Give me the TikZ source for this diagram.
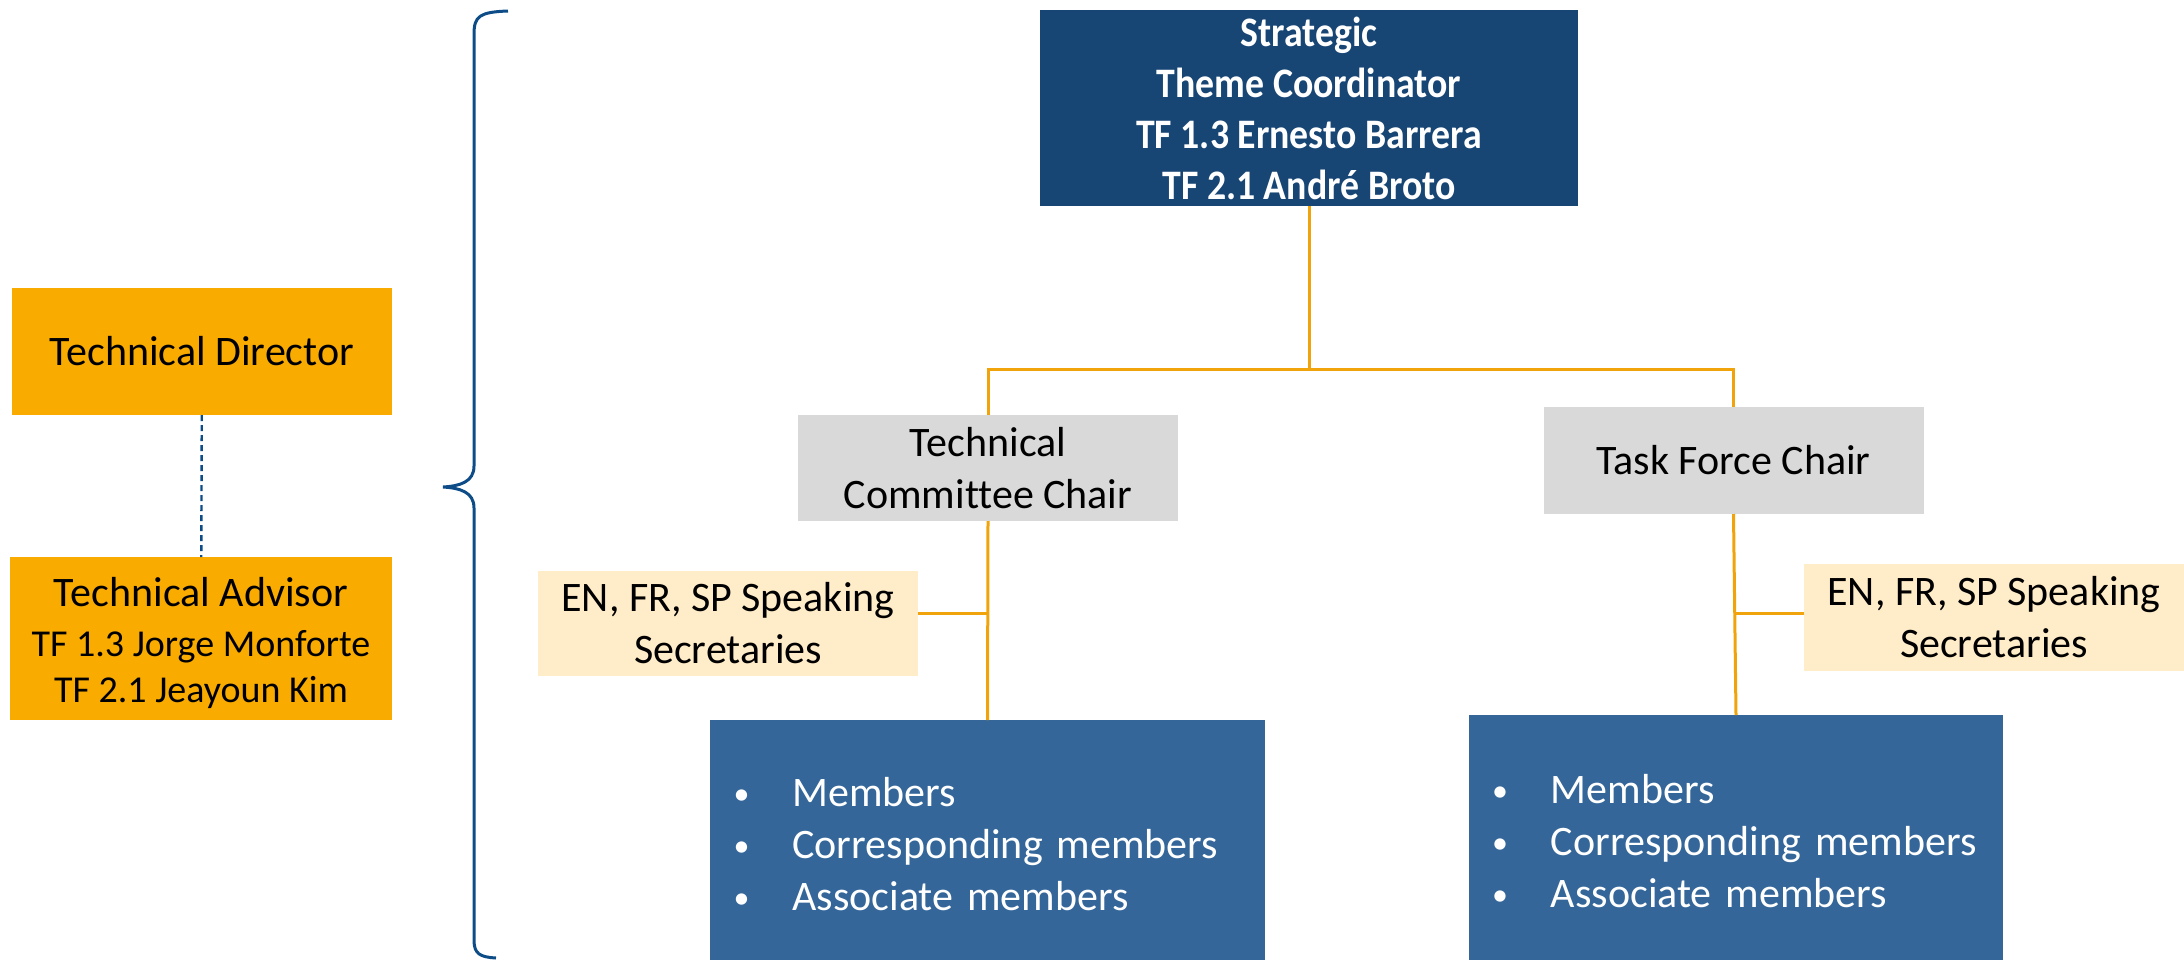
\documentclass[tikz,border=0pt]{standalone}
\usepackage{fontspec}
\setmainfont{Carlito}[Ligatures=NoCommon]
\newfontfamily\leadfont{Carlito}[FakeStretch=0.9,Ligatures=NoCommon]
\usetikzlibrary{arrows,shapes}

\definecolor{stratblue}{RGB}{23,69,116}
\definecolor{memblue}{RGB}{52,102,153}
\definecolor{goldbox}{RGB}{249,171,0}
\definecolor{chairgray}{RGB}{217,217,217}
\definecolor{secbeige}{RGB}{255,236,200}
\definecolor{linkorange}{RGB}{240,163,10}
\definecolor{bracecol}{RGB}{13,76,135}

\newcommand{\memdot}{\raisebox{1pt}{\fontsize{16}{26}\selectfont •}}

\begin{document}
\begin{tikzpicture}[x=0.5pt,y=-0.5pt,
        every node/.style={inner sep=0pt,outer sep=0pt,font=\fontsize{21}{26}\selectfont},
        leadbox/.style={fill=stratblue,text=white,align=center,font=\leadfont\bfseries\fontsize{21}{25.5}\selectfont},
        goldnode/.style={fill=goldbox,align=center},
        chairbox/.style={fill=chairgray,align=center,minimum width=190pt},
        secbox/.style={fill=secbeige,align=center,minimum width=190pt},
        membox/.style={fill=memblue,text=white,align=left,inner xsep=11.5pt},
        link/.style={draw=linkorange,line width=1.5pt},
        tie/.style={draw=bracecol,line width=1.2pt,dash pattern=on 3pt off 2pt}]
                \useasboundingbox (0,0) rectangle (2184,959);
                \node[leadbox,minimum width=269pt,minimum height=98pt](strat)at(1309, 108){Strategic\\Theme Coordinator\\TF 1.3 Ernesto Barrera\\TF 2.1 Andr\'e Broto};
                \node[goldnode,minimum width=190pt,minimum height=63.5pt](tdir)at(202, 351.5){Technical Director};
                \node[goldnode,minimum width=191pt,minimum height=81.5pt](tadv)at(201, 638.5){%
                    \raisebox{-3pt}[\height][\depth]{\begin{tabular}{@{}c@{}}
                    Technical Advisor\\[-1pt]
                    {\fontsize{19}{22}\selectfont TF 1.3 Jorge Monforte}\\[-3pt]
                    {\fontsize{19}{22}\selectfont TF 2.1 Jeayoun Kim}
                    \end{tabular}}};
                \node[chairbox,minimum height=53pt](tcc)at(988, 468){Technical\\Committee Chair};
                \node[chairbox,minimum height=53.5pt](tfc)at(1733.5, 460.5){Task Force Chair};
                \node[secbox,minimum height=52.5pt](secl)at(728, 623.5){EN, FR, SP Speaking\\Secretaries};
                \node[secbox,minimum height=53.5pt](secr)at(1994, 617.5){EN, FR, SP Speaking\\Secretaries};
                \node[membox,minimum width=277.5pt,minimum height=120pt,text width=254pt](meml)at(987.5, 840){%
                    \raisebox{-4pt}[\height][\depth]{\begin{tabular}{@{}l@{\hspace{21.5pt}}l@{}}
                    \memdot & Members\\
                    \memdot & Corresponding members\\
                    \memdot & Associate members
                    \end{tabular}}};
                \node[membox,minimum width=267pt,minimum height=122.5pt,text width=244pt](memr)at(1736, 837.5){%
                    \raisebox{-4pt}[\height][\depth]{\begin{tabular}{@{}l@{\hspace{21.5pt}}l@{}}
                    \memdot & Members\\
                    \memdot & Corresponding members\\
                    \memdot & Associate members
                    \end{tabular}}};
                \coordinate (bus) at (1309, 369);
                % orange links
                \path[link](strat) edge (bus)
                (tcc.south) edge (meml.north)
                (tfc.south) edge (memr.north);
                \draw[link](tcc.north) |- (bus) -| (tfc.north);
                \draw[link]([yshift=5pt]secl.east) -- ([yshift=5pt]secl.east -| tcc.south);
                \draw[link]([yshift=2pt]secr.west) -- ([yshift=2pt]secr.west -| tfc.south);
                \draw[tie](tdir) -- (tadv);
                % brace
                \draw[bracecol,line width=1.5pt](508, 11) .. controls (480, 12) and (474, 16) .. (474, 34)
                -- (474, 466) .. controls (474, 482) and (460, 486) .. (443, 487)
                .. controls (460, 488) and (474, 492) .. (474, 508)
                -- (474, 940) .. controls (474, 954) and (480, 957) .. (496, 958);
            \end{tikzpicture}
\end{document}
